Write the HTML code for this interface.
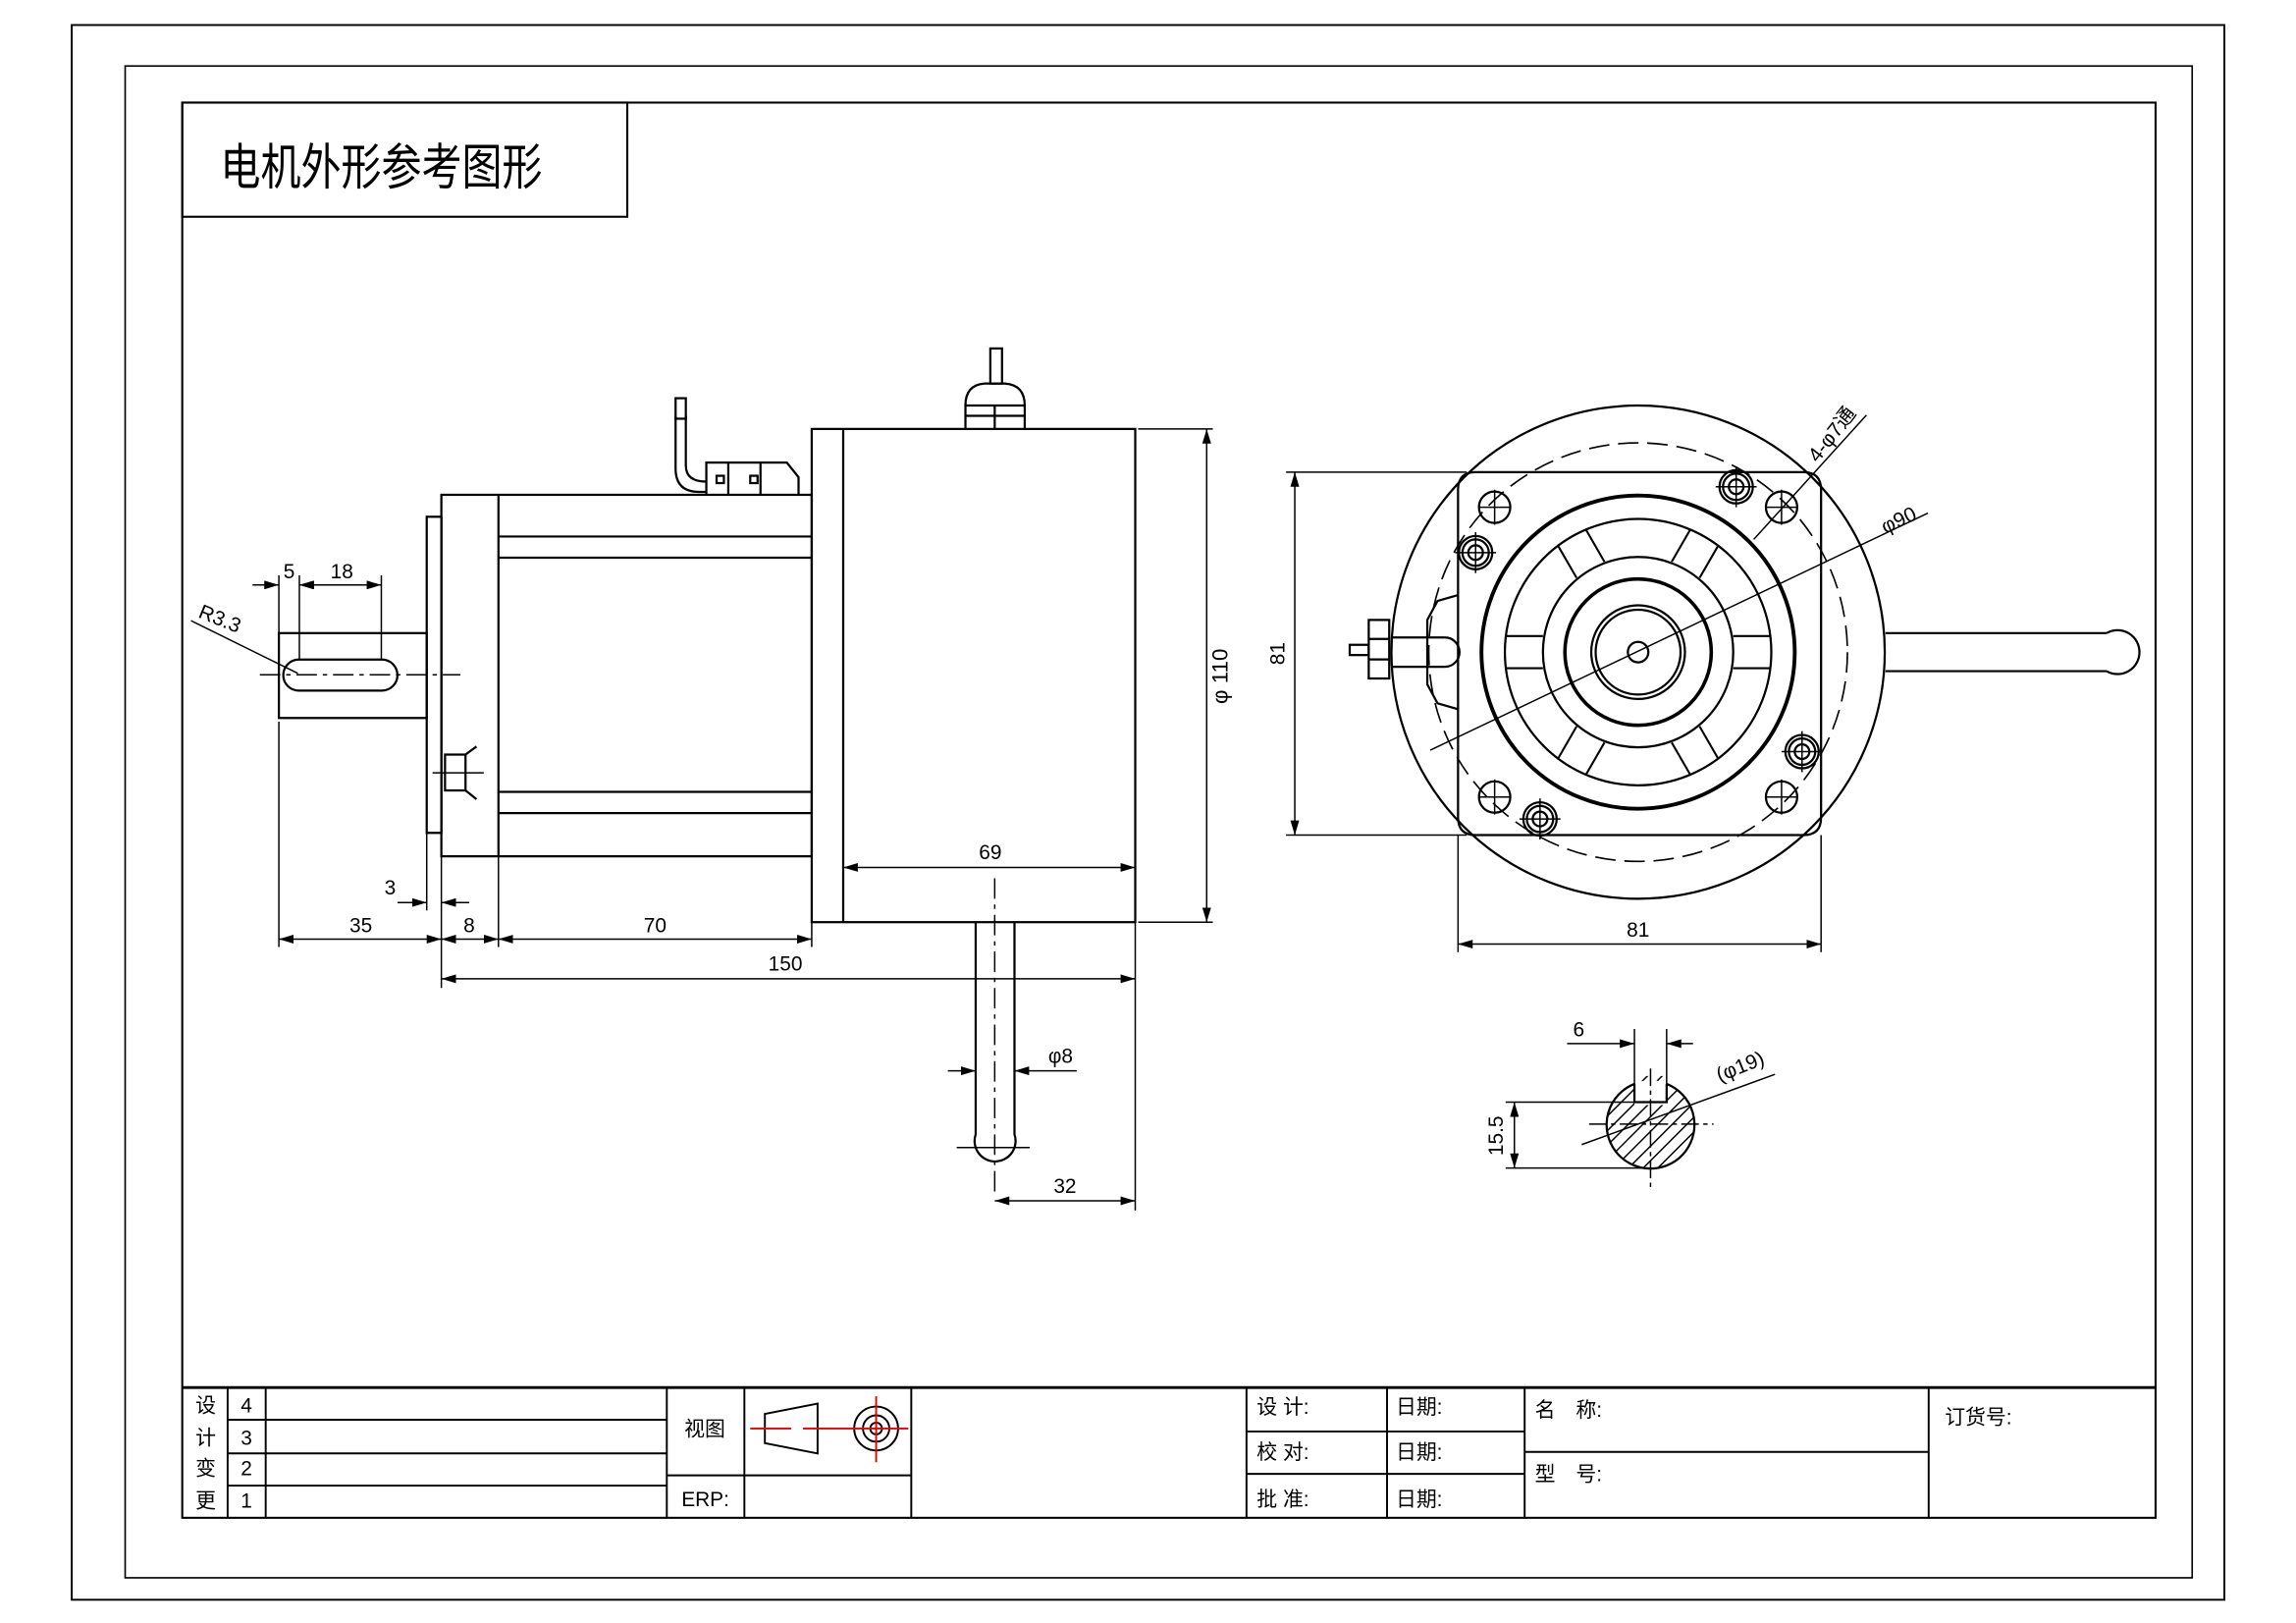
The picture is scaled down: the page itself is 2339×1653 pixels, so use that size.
<!DOCTYPE html>
<html><head><meta charset="utf-8"><style>
html,body{margin:0;padding:0;background:#fff}
svg{display:block}
text{font-family:"Liberation Sans","Noto Sans CJK SC",sans-serif;fill:#000}
</style></head><body>
<svg width="2339" height="1653" viewBox="0 0 1559.33 1102" preserveAspectRatio="none" xmlns="http://www.w3.org/2000/svg">
<defs>
<marker id="a" viewBox="0 0 10 6" refX="10" refY="3" markerWidth="10" markerHeight="6" orient="auto-start-reverse" markerUnits="userSpaceOnUse"><path d="M0,0 L10,3 L0,6 z" fill="#000"/></marker>
<clipPath id="sec"><path d="M1127,738 A30,30 0 1,1 1126.9,738 Z M1116,735 h22 v20 h-22 z" clip-rule="evenodd"/></clipPath>
</defs>
<rect width="1559.33" height="1102" fill="#fff"/>
<g transform="matrix(0.9942 0 0 0.9937 0.5 0.1)">
<g fill="none" stroke="#000" stroke-width="1.3">
<rect x="48.5" y="17" width="1470.5" height="1076"/>
<rect x="85" y="45" width="1412" height="1033" stroke-width="1.1"/>
<rect x="124" y="70" width="1348" height="967" stroke-width="1.4"/>
<rect x="124" y="70" width="304" height="78" stroke-width="1.4"/>
<line x1="124" y1="948" x2="1472" y2="948" stroke-width="2"/>
<line x1="155" y1="948" x2="155" y2="1037"/><line x1="181" y1="948" x2="181" y2="1037"/>
<line x1="455" y1="948" x2="455" y2="1037"/><line x1="508" y1="948" x2="508" y2="1037"/>
<line x1="622" y1="948" x2="622" y2="1037"/><line x1="851" y1="948" x2="851" y2="1037"/>
<line x1="947" y1="948" x2="947" y2="1037"/><line x1="1041" y1="948" x2="1041" y2="1037"/>
<line x1="1317" y1="948" x2="1317" y2="1037"/>
<line x1="155" y1="970" x2="455" y2="970"/><line x1="155" y1="993" x2="455" y2="993"/><line x1="155" y1="1015" x2="455" y2="1015"/>
<line x1="455" y1="1008" x2="622" y2="1008"/>
<line x1="851" y1="978" x2="1041" y2="978"/><line x1="851" y1="1007" x2="1041" y2="1007"/>
<line x1="1041" y1="992" x2="1317" y2="992"/>
<path d="M522,966 L558,959 L558,993 L522,986 Z"/>
<circle cx="598" cy="976" r="15"/><circle cx="598" cy="976" r="9"/><circle cx="598" cy="976" r="4"/>
</g>
<g stroke="#e00" stroke-width="1.3">
<line x1="512" y1="976" x2="540" y2="976"/><line x1="548" y1="976" x2="620" y2="976"/>
<line x1="598" y1="954" x2="598" y2="999"/>
</g>
<g font-size="14">
<text x="133" y="965">设</text><text x="133" y="987">计</text><text x="133" y="1008">变</text><text x="133" y="1030">更</text>
<text x="164" y="965">4</text><text x="164" y="987">3</text><text x="164" y="1008">2</text><text x="164" y="1030">1</text>
<text x="467" y="981">视图</text><text x="465" y="1029">ERP:</text>
<text x="858" y="966">设 计:</text><text x="953" y="966">日期:</text>
<text x="858" y="997">校 对:</text><text x="953" y="997">日期:</text>
<text x="858" y="1029">批 准:</text><text x="953" y="1029">日期:</text>
<text x="1048" y="968">名　称:</text><text x="1048" y="1012">型　号:</text>
<text x="1328" y="973">订货号:</text>
</g>
<text x="150" y="126" font-size="34" textLength="220" lengthAdjust="spacingAndGlyphs">电机外形参考图形</text>

<!-- side view -->
<g fill="none" stroke="#000" stroke-width="1.5">
<rect x="554" y="293" width="221" height="337"/>
<line x1="575.5" y1="293" x2="575.5" y2="630"/>
<rect x="301" y="338" width="253" height="247"/>
<line x1="340" y1="338" x2="340" y2="585"/>
<line x1="340" y1="366.5" x2="554" y2="366.5"/><line x1="340" y1="381" x2="554" y2="381"/>
<line x1="340" y1="541" x2="554" y2="541"/><line x1="340" y1="555.5" x2="554" y2="555.5"/>
<rect x="291" y="353" width="10" height="216"/>
<rect x="190" y="432.5" width="101" height="58"/>
<rect x="193" y="450.6" width="78" height="21.2" rx="10.6"/>
<rect x="303.5" y="515.5" width="14" height="24.5"/>
<path d="M317.5,515.5 L325,510 M317.5,540 L325,546"/>
<path d="M659,293 V277 H699.5 V293"/>
<path d="M659,277 Q659,263 672,262 H686 Q699.5,263 699.5,277"/>
<line x1="679" y1="277" x2="679" y2="293"/><line x1="659" y1="284" x2="699.5" y2="284"/>
<rect x="676" y="238" width="8" height="24"/>
<path d="M482,338 V316 H537 L545,326 V338"/>
<line x1="497" y1="316" x2="497" y2="338"/><line x1="519" y1="316" x2="519" y2="338"/>
<rect x="489" y="325" width="5" height="5"/><rect x="512" y="325" width="5" height="5"/>
<path d="M461,284 V320 Q461,336 477,336 H482 M468,284 V318 Q468,329 482,329"/>
<rect x="461" y="272" width="7" height="14"/>
<path d="M666,630 V775 A14,14 0 1,0 692.5,775 V630"/>
</g>
<g stroke="#000" stroke-width="1" fill="none">
<line x1="177" y1="461" x2="314" y2="461" stroke-dasharray="14,4,3,4"/>
<line x1="295" y1="528" x2="330" y2="528"/>
<line x1="679" y1="600" x2="679" y2="814" stroke-dasharray="14,4,3,4"/>
<line x1="653" y1="784" x2="703" y2="784"/>
<line x1="190" y1="393" x2="190" y2="432"/><line x1="204" y1="393" x2="204" y2="450"/><line x1="260" y1="393" x2="260" y2="450"/>
<line x1="190" y1="493" x2="190" y2="647"/><line x1="301" y1="585" x2="301" y2="675"/><line x1="340" y1="585" x2="340" y2="647"/><line x1="554" y1="630" x2="554" y2="647"/>
<line x1="291" y1="569" x2="291" y2="622"/><line x1="775" y1="630" x2="775" y2="827"/>
<line x1="777" y1="293" x2="828" y2="293"/><line x1="777" y1="630" x2="828" y2="630"/>
<line x1="172" y1="399.6" x2="190" y2="399.6" marker-end="url(#a)"/><line x1="222" y1="399.6" x2="204" y2="399.6" marker-end="url(#a)"/>
<line x1="204" y1="399.6" x2="260" y2="399.6" marker-start="url(#a)" marker-end="url(#a)"/>
<line x1="130" y1="424" x2="203" y2="460"/>
<line x1="271" y1="616.6" x2="291" y2="616.6" marker-end="url(#a)"/><line x1="320" y1="616.6" x2="301" y2="616.6" marker-end="url(#a)"/>
<line x1="190" y1="641.6" x2="301" y2="641.6" marker-start="url(#a)" marker-end="url(#a)"/>
<line x1="301" y1="641.6" x2="340" y2="641.6" marker-start="url(#a)" marker-end="url(#a)"/>
<line x1="340" y1="641.6" x2="554" y2="641.6" marker-start="url(#a)" marker-end="url(#a)"/>
<line x1="301" y1="668.7" x2="775" y2="668.7" marker-start="url(#a)" marker-end="url(#a)"/>
<line x1="575.5" y1="592.6" x2="775" y2="592.6" marker-start="url(#a)" marker-end="url(#a)"/>
<line x1="823.8" y1="293" x2="823.8" y2="630" marker-start="url(#a)" marker-end="url(#a)"/>
<line x1="647" y1="731.6" x2="666" y2="731.6" marker-end="url(#a)"/><line x1="735" y1="731.6" x2="692.5" y2="731.6" marker-end="url(#a)"/>
<line x1="679" y1="820.4" x2="775" y2="820.4" marker-start="url(#a)" marker-end="url(#a)"/>
</g>
<g font-size="14" text-anchor="middle">
<text x="197" y="395">5</text><text x="233" y="395">18</text>
<text x="148" y="427" transform="rotate(22 148 427)">R3.3</text>
<text x="266" y="611">3</text>
<text x="246" y="637">35</text><text x="320" y="637">8</text><text x="447" y="637">70</text>
<text x="536" y="663">150</text><text x="676" y="587">69</text>
<text x="724" y="726">φ8</text><text x="727" y="815">32</text>
<text x="838" y="462" transform="rotate(-90 838 462)" font-size="15">φ 110</text>
</g>

<!-- front view -->
<g transform="translate(6.5,-4.5)">
<g fill="none" stroke="#000" stroke-width="1.5">
<circle cx="1112" cy="450" r="168.5"/>
<circle cx="1112" cy="450" r="143" stroke-dasharray="14,6" stroke-width="1.1"/>
<path d="M1001,327 H1225 Q1237,327 1237,339 V563 Q1237,575 1225,575 H1001 Q989,575 989,563 V339 Q989,327 1001,327 Z"/>
<circle cx="1112" cy="450" r="107" stroke-width="2.6"/>
<circle cx="1112" cy="450" r="91"/>
<circle cx="1112" cy="450" r="65"/>
<circle cx="1112" cy="450" r="50" stroke-width="2.4"/>
<circle cx="1112" cy="450" r="32"/><circle cx="1112" cy="450" r="29"/>
<circle cx="1112" cy="450" r="7"/>
<g stroke-width="1.4">
<line x1="1021" y1="439" x2="1047" y2="439"/><line x1="1021" y1="461" x2="1047" y2="461"/>
<line x1="1177" y1="439" x2="1203" y2="439"/><line x1="1177" y1="461" x2="1203" y2="461"/>
<g transform="rotate(60 1112 450)"><line x1="1021" y1="439" x2="1047" y2="439"/><line x1="1021" y1="461" x2="1047" y2="461"/><line x1="1177" y1="439" x2="1203" y2="439"/><line x1="1177" y1="461" x2="1203" y2="461"/></g>
<g transform="rotate(-60 1112 450)"><line x1="1021" y1="439" x2="1047" y2="439"/><line x1="1021" y1="461" x2="1047" y2="461"/><line x1="1177" y1="439" x2="1203" y2="439"/><line x1="1177" y1="461" x2="1203" y2="461"/></g>
</g>
<circle cx="1014" cy="351" r="10.7"/><circle cx="1210" cy="351" r="10.7"/>
<circle cx="1014" cy="549" r="10.7"/><circle cx="1210" cy="549" r="10.7"/>
<g><circle cx="1179" cy="337" r="11.4"/><circle cx="1179" cy="337" r="9"/><circle cx="1179" cy="337" r="5"/></g>
<g><circle cx="1001" cy="382" r="11.4"/><circle cx="1001" cy="382" r="9"/><circle cx="1001" cy="382" r="5"/></g>
<g><circle cx="1224" cy="518" r="11.4"/><circle cx="1224" cy="518" r="9"/><circle cx="1224" cy="518" r="5"/></g>
<g><circle cx="1045" cy="564" r="11.4"/><circle cx="1045" cy="564" r="9"/><circle cx="1045" cy="564" r="5"/></g>
<path d="M1281,437 H1432 M1281,463 H1432"/>
<path d="M1432,437 A15,15 0 1,1 1432,463"/>
<path d="M989,411 L975,415 L968,428 V472 L975,485 L989,489"/>
<path d="M944,440 H980 M944,460 H980"/><path d="M980,440 A10,10 0 0,1 980,460"/>
<rect x="928" y="428" width="14" height="40"/><line x1="928" y1="441" x2="942" y2="441"/><line x1="928" y1="455" x2="942" y2="455"/>
<rect x="915" y="445" width="13" height="7"/>
</g>
<g stroke="#000" stroke-width="1" fill="none">
<line x1="1003" y1="351" x2="1025" y2="351"/><line x1="1014" y1="339" x2="1014" y2="363"/>
<line x1="1199" y1="351" x2="1221" y2="351"/><line x1="1210" y1="339" x2="1210" y2="363"/>
<line x1="1003" y1="549" x2="1025" y2="549"/><line x1="1014" y1="537" x2="1014" y2="561"/>
<line x1="1199" y1="549" x2="1221" y2="549"/><line x1="1210" y1="537" x2="1210" y2="561"/>
<line x1="1165" y1="337" x2="1193" y2="337"/><line x1="1179" y1="323" x2="1179" y2="351"/>
<line x1="987" y1="382" x2="1015" y2="382"/><line x1="1001" y1="368" x2="1001" y2="396"/>
<line x1="1210" y1="518" x2="1238" y2="518"/><line x1="1224" y1="504" x2="1224" y2="532"/>
<line x1="1031" y1="564" x2="1059" y2="564"/><line x1="1045" y1="550" x2="1045" y2="578"/>
<line x1="970" y1="517" x2="1310" y2="355"/>
<line x1="1191" y1="373" x2="1268" y2="288"/>
<line x1="871.5" y1="327" x2="995" y2="327"/><line x1="871.5" y1="575" x2="995" y2="575"/>
<line x1="877.5" y1="327" x2="877.5" y2="575" marker-start="url(#a)" marker-end="url(#a)"/>
<line x1="989" y1="575" x2="989" y2="655"/><line x1="1237" y1="575" x2="1237" y2="655"/>
<line x1="989" y1="649.5" x2="1237" y2="649.5" marker-start="url(#a)" marker-end="url(#a)"/>
</g>
<g font-size="14" text-anchor="middle">
<text x="870.5" y="451" transform="rotate(-90 870.5 451)">81</text>
<text x="1112" y="644.5">81</text>
<text x="1292" y="364" transform="rotate(-25 1292 364)">φ90</text>
<text x="1248" y="304" transform="rotate(-52 1248 304)">4-φ7通</text>
</g>
</g>

<!-- section -->
<g clip-path="url(#sec)" stroke="#000" stroke-width="1">
<path d="M1080,780 L1140,720 M1080,790 L1150,720 M1080,800 L1160,720 M1085,805 L1165,725 M1095,805 L1165,735 M1105,805 L1165,745 M1115,805 L1165,755 M1125,805 L1165,765 M1080,770 L1130,720 M1080,760 L1120,720"/>
</g>
<g fill="none" stroke="#000" stroke-width="1.5">
<path d="M1116,740.5 A30,30 0 1,0 1138,740.5"/>
<path d="M1116,740.5 V753 H1138 V740.5"/>
</g>
<g stroke="#000" stroke-width="1" fill="none">
<line x1="1116" y1="703" x2="1116" y2="741"/><line x1="1138" y1="703" x2="1138" y2="741"/>
<line x1="1070" y1="713" x2="1116" y2="713" marker-end="url(#a)"/><line x1="1156" y1="713" x2="1138" y2="713" marker-end="url(#a)"/>
<line x1="1028" y1="753" x2="1116" y2="753"/><line x1="1028" y1="798" x2="1127" y2="798"/>
<line x1="1034" y1="753" x2="1034" y2="798" marker-start="url(#a)" marker-end="url(#a)"/>
<line x1="1080" y1="782" x2="1212" y2="734"/>
<line x1="1085" y1="768" x2="1170" y2="768" stroke-dasharray="12,3,3,3"/>
<line x1="1127" y1="730" x2="1127" y2="812" stroke-dasharray="12,3,3,3"/>
</g>
<g font-size="14" text-anchor="middle">
<text x="1078" y="708">6</text>
<text x="1026" y="776" transform="rotate(-90 1026 776)">15.5</text>
<text x="1190" y="733" transform="rotate(-22 1190 733)">(φ19)</text>
</g>
</g>
</svg>
</body></html>
